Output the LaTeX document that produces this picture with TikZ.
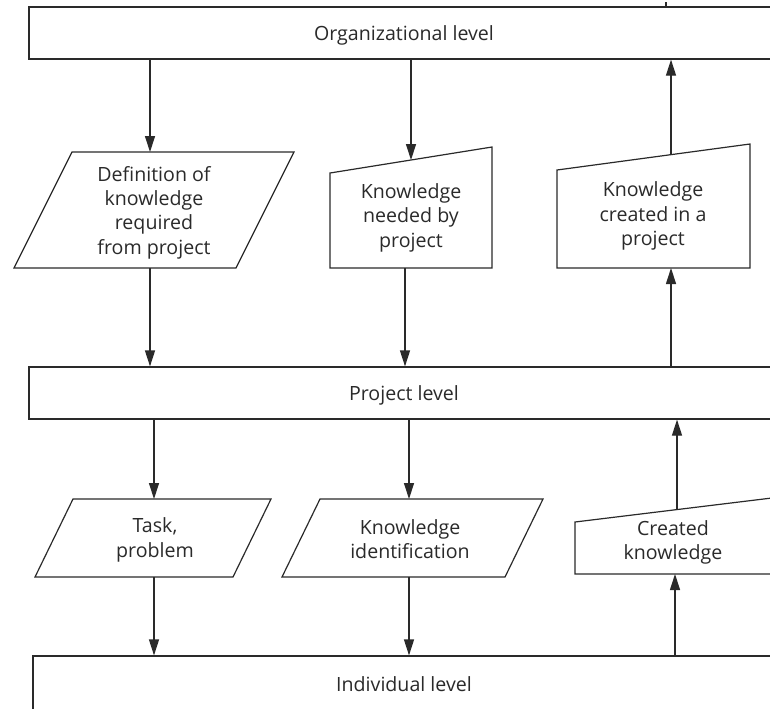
\documentclass[tikz,border=0pt]{standalone}
\usepackage{fontspec}
\setmainfont{Open Sans}
\usetikzlibrary{arrows.meta}
\definecolor{ink}{HTML}{2A2A2A}
\begin{document}
\begin{tikzpicture}[x=0.5pt,y=-0.5pt,
  every node/.style={font=\fontsize{9.8}{12.2}\selectfont, text=ink, align=center, inner sep=0pt},
  outline/.style={draw=ink, line width=0.6pt, fill=white},
  levelbox/.style={outline, minimum height=26pt, text depth=0pt},
  arr/.style={draw=ink, line width=0.6pt, -{Triangle[length=8pt,width=5pt]}},
  plain/.style={draw=ink, line width=0.6pt}]
\useasboundingbox (0,0) rectangle (770,708);
\begin{scope}
\clip (0,0) rectangle (770,708);

% --- three level bands ---
\node[levelbox, minimum width=375pt] (org)  at (404,33)  {Organizational level};
\node[levelbox, minimum width=375pt] (proj) at (404,393) {Project level};
\node[levelbox, minimum width=371pt, minimum height=28pt] (ind) at (404,684) {Individual level};

% --- upper row of data shapes ---
\draw[outline] (72,152) -- (294,152) -- (236,268) -- (14,268) -- cycle;
\node (defn) at (154,212.5) {Definition of\\knowledge\\required\\from project};
\coordinate (defnT) at (150,152);
\coordinate (defnB) at (150,268);

\draw[outline] (330,173) -- (492,147) -- (492,268) -- (330,268) -- cycle;
\node (need) at (411,217.5) {Knowledge\\needed by\\project};
\coordinate (needT) at (411,160);
\coordinate (needB) at (405,268);

\draw[outline] (557,170) -- (750,144) -- (750,268) -- (557,268) -- cycle;
\node (made) at (653,216) {Knowledge\\created in a\\project};
\coordinate (madeT) at (671,154.6);
\coordinate (madeB) at (671,268);

% --- lower row of data shapes ---
\draw[outline] (73,499) -- (271,499) -- (233,577) -- (35,577) -- cycle;
\node (task) at (155,540) {Task,\\problem};
\coordinate (taskT) at (154,499);
\coordinate (taskB) at (154,577);

\draw[outline] (320,499) -- (543,499) -- (505,577) -- (282,577) -- cycle;
\node (ident) at (410,539) {Knowledge\\identification};
\coordinate (identT) at (409,499);
\coordinate (identB) at (409,577);

\draw[outline] (575,522) -- (780,497) -- (780,574) -- (575,574) -- cycle;
\node (crk) at (673,542.5) {Created\\knowledge};
\coordinate (crkT) at (677,509.6);
\coordinate (crkB) at (675,574);

% --- connectors: organizational <-> project ---
\draw[arr] (org.south -| defnT) -- (defnT);
\draw[arr] (org.south -| needT) -- (needT);
\draw[arr] (madeT) -- (org.south -| madeT);
\draw[arr] (defnB) -- (proj.north -| defnB);
\draw[arr] (needB) -- (proj.north -| needB);
\draw[arr] (proj.north -| madeB) -- (madeB);

% --- connectors: project <-> individual ---
\draw[arr] (proj.south -| taskT) -- (taskT);
\draw[arr] (proj.south -| identT) -- (identT);
\draw[arr] (crkT) -- (proj.south -| crkT);
\draw[arr] (taskB) -- (ind.north -| taskB);
\draw[arr] (identB) -- (ind.north -| identB);
\draw[arr] (ind.north -| crkB) -- (crkB);

% short line entering the top band from above
\coordinate (topIn) at (666,2);
\draw[plain] (topIn) -- (org.north -| topIn);
\end{scope}
\end{tikzpicture}
\end{document}
